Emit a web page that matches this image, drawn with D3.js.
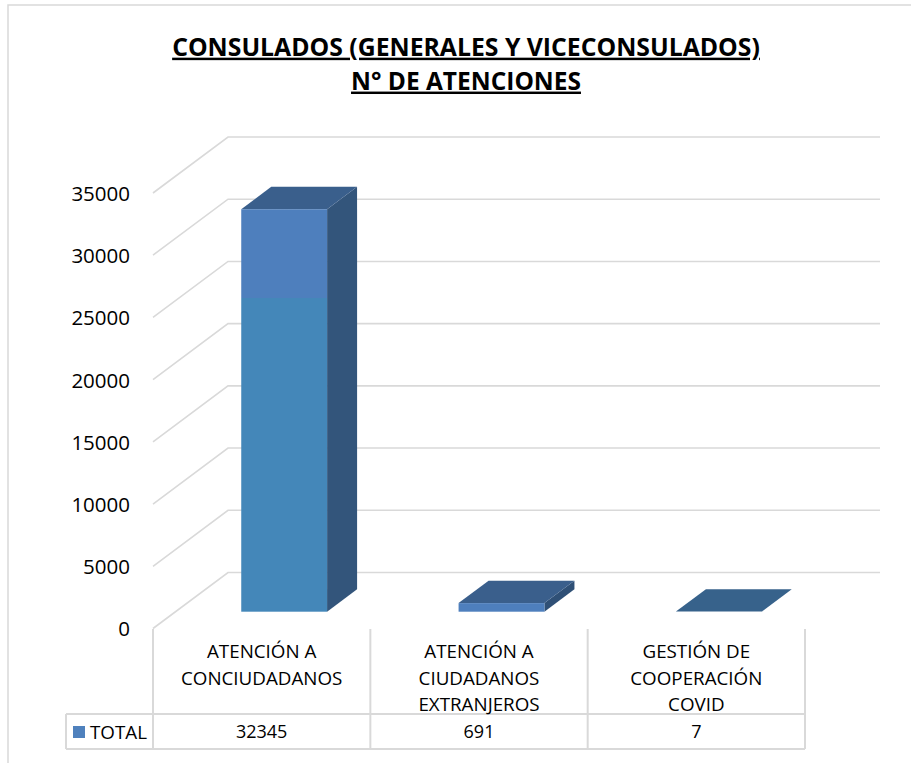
<!DOCTYPE html>
<html><head><meta charset="utf-8">
<script src="https://cdn.jsdelivr.net/npm/d3@7"></script>
<style>
html,body{margin:0;padding:0;background:#fff;}
svg{display:block;font-family:"Open Sans",sans-serif;}
</style></head>
<body>
<svg id="chart" width="911" height="763"></svg>
<script>
// ---- data ----
const titleLines = ["CONSULADOS (GENERALES Y VICECONSULADOS)", "N° DE ATENCIONES"];
const categories = ["ATENCIÓN A CONCIUDADANOS", "ATENCIÓN A CIUDADANOS EXTRANJEROS", "GESTIÓN DE COOPERACIÓN COVID"];
const categoryLines = [["ATENCIÓN A", "CONCIUDADANOS"], ["ATENCIÓN A", "CIUDADANOS", "EXTRANJEROS"], ["GESTIÓN DE", "COOPERACIÓN", "COVID"]];
const seriesName = "TOTAL";
const totals = [32345, 691, 7];
const yTicks = [0, 5000, 10000, 15000, 20000, 25000, 30000, 35000];

// ---- layout ----
const svg = d3.select("#chart");
const W = 911, H = 763;
const plotLeft = 153, plotRight = 805, floorY = 628.5, topY = 193;
const DX = 75, DY = -56;           // depth of the 3D floor
const dFront = 0.3, dBack = 0.7;   // bar depth fractions
const gridColor = "#d9d9d9";

const x = d3.scaleBand().domain(categories).range([plotLeft, plotRight]).paddingInner(0).paddingOuter(0);
const y = d3.scaleLinear().domain([0, 35000]).range([floorY, topY]);

// frame
svg.append("path").attr("d", `M8,${H} L8,5 L${W},5`).attr("fill", "none")
  .attr("stroke", gridColor).attr("stroke-width", 1.5);

// title
const titleG = svg.append("g");
const titleY = [47, 81];
titleLines.forEach((t, i) => {
  titleG.append("text").attr("x", 466).attr("y", titleY[i]).attr("dy", "0.35em")
    .attr("text-anchor", "middle").attr("font-weight", "bold").attr("font-size", 22)
    .attr("fill", "#000").style("text-decoration", "underline").text(t);
});
(function () {
  const targets = [588, 230];
  titleG.selectAll("text").each(function (d, i) {
    const w = this.getComputedTextLength();
    const fs = 22 * targets[i] / w;
    d3.select(this).attr("font-size", fs.toFixed(2));
  });
})();

// gridlines (side wall + back wall)
svg.append("g").selectAll("path").data(yTicks).join("path")
  .attr("d", t => `M${plotLeft},${y(t)} L${plotLeft + DX},${y(t) + DY} L${plotRight + DX},${y(t) + DY}`)
  .attr("fill", "none").attr("stroke", gridColor).attr("stroke-width", 1.6);

// y axis labels
const yAxis = d3.axisLeft(y).tickValues(yTicks).tickSize(0).tickPadding(23).tickFormat(d3.format("d"));
const yg = svg.append("g").attr("transform", `translate(${plotLeft},0)`).call(yAxis);
yg.select(".domain").remove();
yg.selectAll("text").attr("font-family", "Open Sans").attr("font-size", 20.5).attr("fill", "#000")
  .attr("dy", "0.36em");

// bars
const defs = svg.append("defs");
const grad = defs.append("linearGradient").attr("id", "frontGrad").attr("x1", 0).attr("y1", 0).attr("x2", 0).attr("y2", 1);
grad.append("stop").attr("offset", "0").attr("stop-color", "#4e7fbd");
grad.append("stop").attr("offset", "0.22").attr("stop-color", "#4e7fbd");
grad.append("stop").attr("offset", "0.22").attr("stop-color", "#4487b9");
grad.append("stop").attr("offset", "1").attr("stop-color", "#4487b9");

const barW = x.bandwidth() * 0.395;
const bars = svg.append("g").selectAll("g").data(categories.map((c, i) => ({ c, v: totals[i], i }))).join("g");
bars.each(function (d) {
  const g = d3.select(this);
  const cx = x(d.c) + x.bandwidth() / 2;
  const fx0 = cx + dFront * DX - barW / 2, fx1 = fx0 + barW;
  const fyB = y(0) + dFront * DY, fyT = y(d.v) + dFront * DY;
  const ddx = (dBack - dFront) * DX, ddy = (dBack - dFront) * DY;
  g.append("path").attr("d", `M${fx1},${fyB} L${fx1 + ddx},${fyB + ddy} L${fx1 + ddx},${fyT + ddy} L${fx1},${fyT} Z`)
    .attr("fill", d.i === 0 ? "#33557b" : "#2f5076");
  g.append("path").attr("d", `M${fx0},${fyT} L${fx0 + ddx},${fyT + ddy} L${fx1 + ddx},${fyT + ddy} L${fx1},${fyT} Z`)
    .attr("fill", d.i === 2 ? "#37628b" : "#3a5f8c");
  if (fyB - fyT > 0.5) {
    g.append("rect").attr("x", fx0).attr("y", fyT).attr("width", barW).attr("height", fyB - fyT)
      .attr("fill", d.i === 0 ? "url(#frontGrad)" : "#4e7fbd");
  }
});

// table
const tableTop = 629, rowTop = 714, rowBot = 749, legendLeft = 66;
const tg = svg.append("g").attr("stroke", gridColor).attr("stroke-width", 2).attr("fill", "none");
const vLines = categories.map(c => x(c)).concat([plotRight]);
tg.selectAll("line.v").data(vLines).join("line").attr("class", "v")
  .attr("x1", d => d).attr("x2", d => d).attr("y1", tableTop).attr("y2", rowBot);
tg.append("line").attr("x1", legendLeft).attr("x2", legendLeft).attr("y1", rowTop).attr("y2", rowBot);
tg.append("line").attr("x1", legendLeft).attr("x2", plotRight).attr("y1", rowTop).attr("y2", rowTop);
tg.append("line").attr("x1", legendLeft).attr("x2", plotRight).attr("y1", rowBot).attr("y2", rowBot);

// category labels
const lineYs = [651.5, 678, 704.5];
const cg = svg.append("g");
categoryLines.forEach((lines, i) => {
  const cx = x(categories[i]) + x.bandwidth() / 2;
  lines.forEach((ln, j) => {
    cg.append("text").attr("x", cx).attr("y", lineYs[j]).attr("dy", "0.36em")
      .attr("text-anchor", "middle").attr("font-size", 18.8).attr("fill", "#000").text(ln);
  });
});

// values row
const valY = 732;
svg.append("g").selectAll("text").data(totals).join("text")
  .attr("x", (d, i) => x(categories[i]) + x.bandwidth() / 2).attr("y", valY).attr("dy", "0.36em")
  .attr("text-anchor", "middle").attr("font-size", 18).attr("fill", "#000").text(d => d);

// legend cell
svg.append("rect").attr("x", 73).attr("y", 726).attr("width", 12).attr("height", 12).attr("fill", "#4f81bd");
svg.append("text").attr("x", 90).attr("y", valY).attr("dy", "0.36em").attr("font-size", 18.8)
  .attr("fill", "#000").text(seriesName);
</script>
</body></html>
